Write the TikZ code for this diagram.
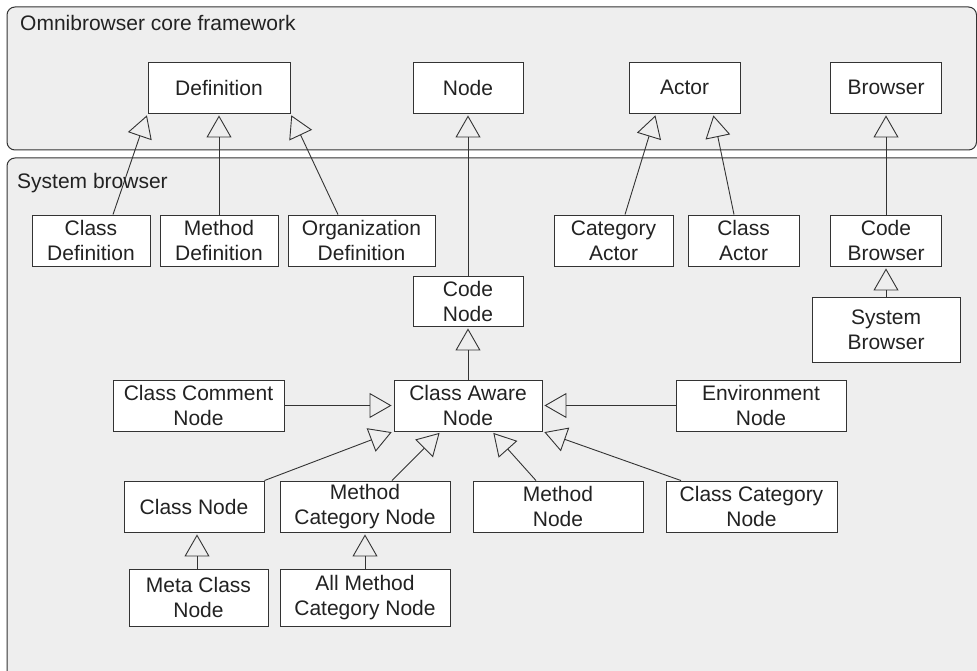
\documentclass[tikz,border=0pt]{standalone}
\usepackage{fontspec}
\setmainfont{Liberation Sans}
\usetikzlibrary{arrows.meta}

\definecolor{panelgray}{RGB}{238,238,238}
\definecolor{linegray}{RGB}{51,51,51}
\definecolor{textgray}{RGB}{34,34,34}

\begin{document}
\begin{tikzpicture}[x=1pt, y=-1pt,
		box/.style={draw=linegray, fill=white, line width=0.9pt, align=center, inner sep=0pt,
			text=textgray, font=\fontsize{21}{25}\selectfont},
		inherit/.style={draw=linegray, line width=0.9pt, -{Triangle[open, length=22pt, width=25pt]}, shorten >=2pt},
		panel/.style={draw=linegray, fill=panelgray, line width=1pt, rounded corners=8pt},
		title/.style={anchor=west, inner sep=0pt, text=textgray, font=\fontsize{21}{25}\selectfont}]
		\useasboundingbox (0,0) rectangle (977,671);
		\begin{scope}
			\clip (0,0) rectangle (977,671);
			\draw[panel] (7,7) rectangle (976.5,150);
			\draw[panel] (7,158) rectangle (1000,690);
		\end{scope}
		\node[title] (coretitle) at (20,23) {Omnibrowser core framework};
		\node[title] (systitle) at (17,183) {System browser};
		% classes: name/x/y/width/height/text
		\foreach \name/\x/\y/\w/\h/\txt in {
			def/219/87.5/142/51/Definition,
			node/468/87.5/110/51/Node,
			actor/684.5/87.5/111/51/Actor,
			browser/886/87.5/111/51/Browser,
			classdef/91/240.5/118/51/{Class\\Definition},
			methdef/219/240.5/118/51/{Method\\Definition},
			orgdef/361.5/240.5/147/51/{Organization\\Definition},
			catactor/613.5/240.5/119/51/{Category\\Actor},
			classactor/743.5/240.5/111/51/{Class\\Actor},
			codebrowser/886/240.5/111/51/{Code\\Browser},
			codenode/468/301/110/50/{Code\\Node},
			sysbrowser/886/329.5/148/65/{System\\Browser},
			commentnode/198.5/405.5/171/51/{Class Comment\\Node},
			awarenode/468/405.5/148/51/{Class Aware\\Node},
			envnode/761/405.5/170/51/{Environment\\Node},
			classnode/194/506.5/140/51/{Class Node},
			methcatnode/365/506.5/170/51/{Method\\Category Node},
			methnode/558/506.5/170/51/{Method\\Node},
			clscatnode/751.5/506.5/171/51/{Class Category\\Node},
			metaclassnode/198.5/597.5/139/57/{Meta Class\\Node},
			allmethcat/365/597.5/170/57/{All Method\\Category Node}} {
			\node[box, minimum width=\w pt, minimum height=\h pt] (\name) at (\x,\y) {\txt};
		}
		% generalisations
		\draw[inherit] ([xshift=22pt]classdef.north) -- (def.south west);
		\draw[inherit] (methdef.north) -- (def.south);
		\draw[inherit] ([xshift=-23.5pt]orgdef.north) -- (def.south east);
		\draw[inherit] (codenode.north) -- (node.south);
		\draw[inherit] ([xshift=11.5pt]catactor.north) -- ([xshift=-28.5pt]actor.south);
		\draw[inherit] ([xshift=-9.5pt]classactor.north) -- ([xshift=28.5pt]actor.south);
		\draw[inherit] (codebrowser.north) -- (browser.south);
		\draw[inherit] (sysbrowser.north) -- (codebrowser.south);
		\draw[inherit] (awarenode.north) -- (codenode.south);
		\draw[inherit] (commentnode.east) -- (awarenode.west);
		\draw[inherit] (envnode.west) -- (awarenode.east);
		\draw[inherit] (classnode.north east) -- (awarenode.south west);
		\draw[inherit] ([xshift=27pt]methcatnode.north) -- ([xshift=-27pt]awarenode.south);
		\draw[inherit] ([xshift=-22pt]methnode.north) -- ([xshift=24pt]awarenode.south);
		\draw[inherit] ([xshift=-70.5pt]clscatnode.north) -- (awarenode.south east);
		\draw[inherit] ([xshift=-1.5pt]metaclassnode.north) -- ([xshift=3pt]classnode.south);
		\draw[inherit] (allmethcat.north) -- (methcatnode.south);
	\end{tikzpicture}
\end{document}
